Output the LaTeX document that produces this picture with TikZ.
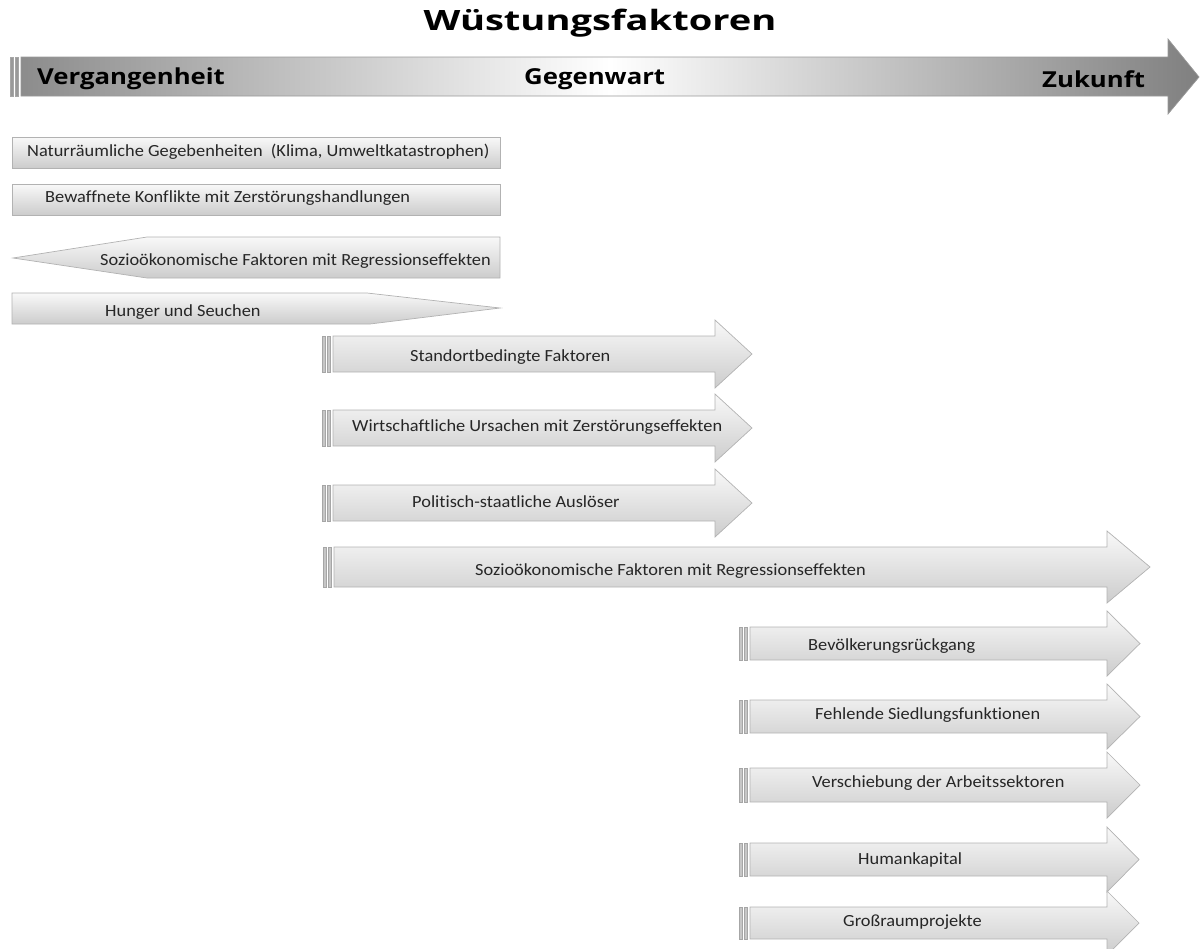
\documentclass[tikz,border=0pt]{standalone}
\usepackage{fontspec}
\setmainfont[FakeStretch=1.08,Ligatures=NoCommon]{Carlito}
\newfontfamily\titelfont[FakeStretch=1.36]{Open Sans}
\newfontfamily\zeitfont[FakeStretch=1.17]{Open Sans}
\tikzset{
  box/.style={draw=gray!60,line width=0.7pt,top color=gray!5,bottom color=gray!40},
  streifen/.style={draw=gray!70,fill=gray!45,line width=0.5pt},
  faktor/.style={font=\fontsize{17}{19}\selectfont,text=black!85,inner sep=0pt,anchor=west},
  zeit/.style={font=\zeitfont\bfseries\fontsize{22}{24}\selectfont,inner sep=0pt,anchor=west}
}
% Pfeil mit Streifen: Streifen-x, Kopf-x, Spitze-x, oben, unten
\newcommand{\pfeil}[5]{%
  \draw[streifen] (#1,#4) rectangle (#1+3,#5);
  \draw[streifen] (#1+5,#4) rectangle (#1+8,#5);
  \draw[box] (#1+11,#4) -- (#2,#4) -- (#2,#4-16) -- (#3,{(#4+#5)/2})
    -- (#2,#5+16) -- (#2,#5) -- (#1+11,#5) -- cycle;
}

\begin{document}
\begin{tikzpicture}[x=1pt,y=-1pt]
  \useasboundingbox (0,0) rectangle (1201,948);

  % Zeitachse
  \node[font=\titelfont\bfseries\fontsize{28}{32}\selectfont,inner sep=0pt] (titel) at (600,23) {Wüstungsfaktoren};
  \draw[streifen,fill=gray!80] (10,57) rectangle (13,96);
  \draw[streifen,fill=gray!80] (15,57) rectangle (18,96);
  \draw[draw=gray!80,line width=0.7pt,left color=gray!90,right color=gray!100,middle color=white]
    (21,57) -- (1168,57) -- (1168,39) -- (1199,77) -- (1168,114) -- (1168,96) -- (21,96) -- cycle;
  \node[zeit] (vergangenheit) at (37,79) {Vergangenheit};
  \node[zeit] (gegenwart) at (524,79) {Gegenwart};
  \node[zeit] (zukunft) at (1042,79) {Zukunft};

  % Vergangenheit
  \draw[box] (12,137) rectangle (500,168);
  \node[faktor] (natur) at (27,152) {Naturräumliche Gegebenheiten \ (Klima, Umweltkatastrophen)};
  \draw[box] (12,184) rectangle (500,215);
  \node[faktor] (konflikte) at (45,198) {Bewaffnete Konflikte mit Zerstörungshandlungen};
  \draw[box] (500,237) -- (147,237) -- (13,258) -- (147,278) -- (500,278) -- cycle;
  \node[faktor] (sozio1) at (100,261) {Sozioökonomische Faktoren mit Regressionseffekten};
  \draw[box] (12,293) -- (367,293) -- (500,308) -- (370,324) -- (12,324) -- cycle;
  \node[faktor] (hunger) at (105,312) {Hunger und Seuchen};

  % Gegenwart
  \pfeil{322}{715}{752}{336}{372}
  \node[faktor] (standort) at (410,357) {Standortbedingte Faktoren};
  \pfeil{322}{715}{752}{410}{446}
  \node[faktor] (wirtschaft) at (352,427) {Wirtschaftliche Ursachen mit Zerstörungseffekten};
  \pfeil{322}{715}{752}{485}{521}
  \node[faktor] (politik) at (412,502) {Politisch-staatliche Auslöser};
  \pfeil{323}{1107}{1150}{547}{587}
  \node[faktor] (sozio2) at (475,571) {Sozioökonomische Faktoren mit Regressionseffekten};

  % Zukunft
  \pfeil{739}{1107}{1140}{627}{660}
  \node[faktor] (bevoelkerung) at (808,646) {Bevölkerungsrückgang};
  \pfeil{739}{1107}{1140}{700}{733}
  \node[faktor] (siedlung) at (815,715) {Fehlende Siedlungsfunktionen};
  \pfeil{739}{1107}{1140}{768}{802}
  \node[faktor] (arbeit) at (812,783) {Verschiebung der Arbeitssektoren};
  \pfeil{739}{1107}{1139}{843}{876}
  \node[faktor] (human) at (858,860) {Humankapital};
  \pfeil{739}{1107}{1139}{907}{939}
  \node[faktor] (grossraum) at (843,922) {Großraumprojekte};
\end{tikzpicture}
\end{document}
